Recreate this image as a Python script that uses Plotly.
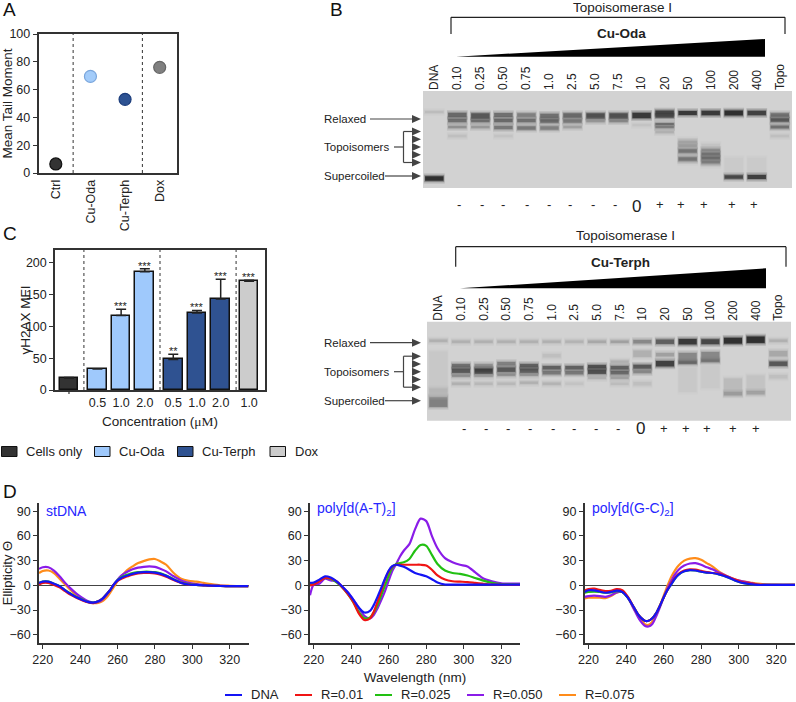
import plotly.graph_objects as go

W, H = 796, 702
FONT = "Liberation Sans"
INK = "#222222"

# ---- Panel A
a_groups = ["Ctrl", "Cu-Oda", "Cu-Terph", "Dox"]
a_values = [6.5, 69.5, 53, 76]
a_fill = ["#333333", "#a3ccfa", "#2d5292", "#808080"]
a_edge = ["#111111", "#7aa6dc", "#1c3d7c", "#666666"]

# ---- Panel C
c_pos = [0, 1.2, 2.2, 3.2, 4.4, 5.4, 6.4, 7.6]
c_ticks = ["0.5", "1.0", "2.0", "0.5", "1.0", "2.0", "1.0"]
c_values = [18.5, 33, 117, 186, 48, 121, 143, 171]
c_errors = [1, 0.5, 10, 4.5, 8, 4, 31, 1.5]
c_stars = ["", "", "***", "***", "**", "***", "***", "***"]
c_fill = ["#333333", "#9fc9fc", "#9fc9fc", "#9fc9fc", "#2f5291", "#2f5291", "#2f5291", "#cccccc"]
c_legend = ["Cells only", "Cu-Oda", "Cu-Terph", "Dox"]
c_legend_fill = ["#333333", "#9fc9fc", "#2f5291", "#cccccc"]

# ---- Panel D
wl = [218, 220, 223, 226, 229, 232, 235, 238, 241, 244, 247, 250, 252, 254, 256, 258, 260, 262,
      264, 266, 268, 271, 274, 277, 280, 283, 286, 290, 294, 298, 302, 306, 310, 315, 320, 330]
st_dna = [3, 4.5, 4.5, 2, -1, -6, -10.5, -14.5, -17.5, -20, -21, -19, -16, -11, -6, 1, 6, 9, 11, 12.5, 14, 15.5, 16, 16, 15.5, 14, 11.5, 7, 3, 1, 0.5, 0, -0.5, -0.8, -1, -1]
st_r1 = [1, 3, 3, 0.5, -2.5, -7, -11.5, -15, -18, -20.5, -21.5, -19, -16, -11, -6, 1, 5.5, 8, 10, 11.5, 13, 14.5, 15, 15, 14.5, 13, 10.5, 6.5, 3, 1, 0.5, 0, -0.5, -0.8, -1, -1]
st_r25 = [3, 4.5, 4.5, 2, -1, -6, -10, -14, -17, -20, -21, -19, -16, -11, -6, 1, 6.5, 10, 12, 13.5, 15, 16, 16.5, 16.5, 16, 14.5, 12, 7.5, 3.5, 1.5, 0.5, 0, -0.5, -0.8, -1, -1]
st_r50 = [20, 22, 22, 18, 11, 3, -4, -10, -15, -19, -21, -20, -17, -12, -6, 1, 7, 12, 15, 17.5, 19.5, 21.5, 22.5, 23, 22.5, 20, 17, 11, 6, 3, 1.5, 0.5, 0, -0.5, -1, -1]
st_r75 = [15, 17.5, 18, 15, 8, 1, -6, -12, -16.5, -20, -21.5, -21, -19, -15, -9, -2, 5, 11, 16, 20, 23, 27, 29.5, 31.5, 32, 29, 25, 15, 8, 5.5, 4.5, 3, 1.5, 0, -0.5, -1]
at_dna = [3, 3.5, 7, 11, 9.5, 5, -1, -8, -17, -27, -33, -31, -24, -14, -3, 8, 18, 23.5, 25, 24, 22.5, 19, 15, 13, 11, 7.5, 3.5, 1, 0.8, 0.8, 0.8, 0.8, 0.8, 0.8, 0.8, 0.8]
at_r1 = [0, 1, 5, 9, 8.5, 5, -2, -10, -20, -34, -42, -40, -32, -20, -7, 7, 17, 23, 25, 25, 25, 25, 25, 25, 24, 19, 12, 7, 5, 4.5, 4, 3, 2, 1, 0.8, 0.5]
at_r25 = [1, 2, 6, 9, 8, 4, -2, -10, -20, -32, -40, -39, -33, -24, -12, 0, 12, 22, 26, 27, 28, 32, 42, 49, 48, 37, 26, 18, 15, 14, 12, 9, 6, 3, 1.5, 1]
at_r50 = [-12, 1, 2, 8, 6, 5, -1, -8, -17, -27, -37, -40, -36, -28, -18, -7, 6, 18, 26, 35, 42, 50, 68, 81, 78, 60, 45, 33, 28, 25, 23, 16, 9, 5, 2.5, 2]
gc_dna = [-8, -6, -6, -7.5, -9, -8, -6.5, -8, -15, -26, -37, -43, -43, -40, -34, -25, -15, -6, 1, 8, 13, 17, 18.5, 18, 16.5, 15.5, 15, 13, 10, 6, 3, 1.5, 0.5, 0.5, 0.5, 0.5]
gc_r1 = [-6, -4.5, -4, -5.5, -7, -6.5, -4.5, -6, -14, -26, -37, -43, -43, -40, -34, -25, -15, -6, 2, 9, 14, 18, 19.5, 19, 17.5, 16, 15, 14, 10.5, 7, 4, 2.5, 1, 0.5, 0.5, 0.5]
gc_r25 = [-9, -8, -7.5, -8, -9, -8.5, -7, -8, -15, -26, -37, -43, -43, -40, -34, -25, -15, -6, 1, 8, 13, 17, 18.5, 18, 16.5, 15.5, 15, 13, 10, 6, 3, 1.5, 0.5, 0.5, 0.5, 0.5]
gc_r50 = [-14, -13, -12.5, -13, -14, -12, -8.5, -8, -15, -28, -41, -49, -50, -47, -38, -27, -15, -4, 5, 13, 19, 24, 26.5, 27, 25, 22, 19.5, 15, 11, 7, 5, 3, 1, 0.5, 0.5, 0.5]
gc_r75 = [-16, -15, -15, -15, -15.5, -13, -9, -8, -15, -27, -38, -47, -48, -44, -36, -25, -13, -1, 10, 18, 24, 30, 32.5, 33, 31, 27, 23, 16, 11, 7.5, 5, 3.5, 2, 1, 0.5, 0.5]
d_names = ["DNA", "R=0.01", "R=0.025", "R=0.050", "R=0.075"]
d_colors = ["#1414f5", "#f01414", "#22c012", "#8a1ce8", "#ff8c1a"]

# ---- Panel B gels
lane_labels = ["DNA", "0.10", "0.25", "0.50", "0.75", "1.0", "2.5", "5.0", "7.5", "10", "20", "50", "100", "200", "400", "Topo"]
signs = ["-", "-", "-", "-", "-", "-", "-", "-", "0", "+", "+", "+", "+", "+"]
sign_lane1 = [1.09, 2.06, 3, 4.01, 4.96, 5.9, 6.87, 7.83, 8.8, 9.81, 10.72, 11.72, 12.93, 13.87]
sign_lane2 = [1.13, 2.09, 3.07, 4.06, 5.04, 6, 6.96, 7.94, 8.93, 9.97, 10.91, 11.87, 13, 14]
# (lane, migration, darkness, band height)
gel1_bands = [
    (0, 21, .15, 1), (0, 87.5, 1, 4),
    (1, 24, .65, 4), (1, 29.5, .6, 3), (1, 36, .4, 2), (1, 45, .1, 2),
    (2, 25, .75, 5), (2, 30, .6, 2), (2, 36, .35, 2),
    (3, 24, .6, 3.5), (3, 29.5, .65, 3), (3, 36.5, .55, 3), (3, 45, .08, 2),
    (4, 24, .5, 3), (4, 29.5, .6, 3), (4, 37, .55, 3),
    (5, 25, .6, 4), (5, 30, .65, 3), (5, 37, .5, 3),
    (6, 24.5, .65, 4), (6, 30, .55, 3), (6, 36, .3, 2),
    (7, 25, .8, 5), (7, 30, .35, 2),
    (8, 25, .8, 5), (8, 30, .45, 2),
    (9, 24.5, .95, 5), (9, 34, .08, 2),
    (10, 21.5, .85, 3.5), (10, 25, .8, 3), (10, 33, .6, 1.5), (10, 36, .5, 2), (10, 41, .2, 2),
    (11, 22, .95, 3.5), (11, 60, .08, 24), (11, 51, .25, 2), (11, 54.5, .3, 2), (11, 60, .55, 3), (11, 68, .55, 3),
    (12, 22, .95, 4), (12, 64, .08, 22), (12, 59, .4, 2), (12, 63, .55, 2.5), (12, 67, .6, 2.5), (12, 71, .5, 2.5),
    (13, 22, 1, 4.5), (13, 76, .035, 18), (13, 86, .85, 3),
    (14, 22, .9, 4), (14, 76, .035, 18), (14, 86, .9, 3.5),
    (15, 24, .6, 3), (15, 29, .75, 3), (15, 36, .6, 2.5), (15, 45, .1, 2),
]
gel2_bands = [
    (0, 19, .2, 2), (0, 50, .05, 40), (0, 80, .5, 10), (0, 71, .15, 8),
    (1, 20, .2, 2), (1, 44, .6, 3), (1, 49, .75, 4), (1, 54, .4, 2), (1, 62, .2, 2),
    (2, 20, .2, 2), (2, 44, .4, 3), (2, 49.5, .9, 5), (2, 54, .3, 2), (2, 62, .15, 2),
    (3, 20, .2, 2), (3, 42, .5, 3), (3, 48, .75, 4), (3, 53, .4, 2), (3, 62, .15, 2),
    (4, 20, .2, 2), (4, 44, .7, 3), (4, 49, .75, 4), (4, 53, .35, 2), (4, 61, .2, 2),
    (5, 20, .2, 2), (5, 34, .1, 3), (5, 46, .7, 3), (5, 51, .55, 3), (5, 62, .18, 2),
    (6, 20, .18, 2), (6, 46, .7, 3), (6, 51, .55, 3), (6, 62, .08, 2),
    (7, 20, .25, 2), (7, 45, .8, 3), (7, 50, .8, 4), (7, 56, .2, 2),
    (8, 20, .3, 2), (8, 40, .2, 2), (8, 46, .7, 3), (8, 51, .65, 3), (8, 56, .3, 2), (8, 62, .12, 2),
    (9, 20, .45, 3), (9, 32, .2, 6), (9, 45, .75, 3.5), (9, 50, .45, 2.5), (9, 62, .1, 3),
    (10, 20, .7, 4), (10, 33, .3, 3), (10, 42, .9, 5),
    (11, 20, .95, 5), (11, 36, .45, 9), (11, 41, .6, 2), (11, 58, .045, 24),
    (12, 20, .85, 4.5), (12, 35, .45, 9), (12, 39, .5, 2), (12, 55, .04, 22),
    (13, 19, 1, 5.5), (13, 65, .13, 16), (13, 72, .3, 3),
    (14, 18, 1, 6), (14, 62, .08, 16), (14, 71, .28, 3),
    (15, 19, .2, 2), (15, 32, .25, 5), (15, 42, .75, 4), (15, 55, .1, 3),
]


def X(p):
    return p / W


def Y(p):
    return 1 - p / H


fig = go.Figure()
shapes, notes = [], []


def note(px, py, text, size=12, anchor="left", color=INK, bold=False, angle=0):
    notes.append(dict(xref="paper", yref="paper", x=X(px), y=Y(py), text=f"<b>{text}</b>" if bold else text,
                      showarrow=False, xanchor=anchor, yanchor="middle", textangle=angle, borderpad=0,
                      font=dict(family=FONT, size=size, color=color)))


def seg(x0, y0, x1, y1, color="#333333", width=1.2):
    shapes.append(dict(type="line", xref="paper", yref="paper", x0=X(x0), y0=Y(y0), x1=X(x1), y1=Y(y1),
                       line=dict(color=color, width=width)))


def poly(pts, color):
    path = "M " + " L ".join(f"{X(a):.5f},{Y(b):.5f}" for a, b in pts) + " Z"
    shapes.append(dict(type="path", xref="paper", yref="paper", path=path, fillcolor=color, line=dict(width=0)))


def dom(a, b, size):
    return [a / size, b / size]


def ydom(top, bottom):
    return [1 - bottom / H, 1 - top / H]


tickf = dict(family=FONT, size=12.5, color=INK)
titlef = dict(family=FONT, size=13.5, color=INK)
axcommon = dict(showgrid=False, zeroline=False, linecolor="#333333", linewidth=1.5, tickcolor="#333333", tickfont=tickf,
                layer="below traces", automargin=False)

# ---- A
fig.add_trace(go.Scatter(x=a_groups, y=a_values, mode="markers", xaxis="x", yaxis="y", showlegend=False,
                         marker=dict(size=12, color=a_fill, line=dict(color=a_edge, width=1.2))))
shapes += [dict(type="line", xref="x", yref="y domain", x0=v, x1=v, y0=0, y1=1, line=dict(color="#333333", width=1, dash="dot")) for v in (0.5, 2.5)]

# ---- C
fig.add_trace(go.Bar(x=c_pos, y=c_values, width=0.79, xaxis="x2", yaxis="y2", showlegend=False,
                     marker=dict(color=c_fill, line=dict(color="#111111", width=1.5)),
                     error_y=dict(type="data", symmetric=False, array=c_errors, arrayminus=[0] * 8, color="#222222", thickness=1.5, width=5)))
for p, v, e, s in zip(c_pos, c_values, c_errors, c_stars):
    if s:
        notes.append(dict(xref="x2", yref="y2", x=p, y=v + e, text=s, showarrow=False, yanchor="bottom", yshift=-4, borderpad=0,
                          font=dict(family=FONT, size=11, color=INK)))
shapes += [dict(type="line", xref="x2", yref="y2 domain", x0=v, x1=v, y0=0, y1=1, line=dict(color="#333333", width=1, dash="dot")) for v in (0.63, 3.84, 7.05)]
shapes.append(dict(type="line", xref="x2", yref="paper", x0=c_pos[0], x1=c_pos[0], y0=Y(390), y1=Y(394), line=dict(color="#333333", width=1.2)))
note(25, 319.5, "γH2AX MFI", 13.5, "center", angle=-90)
for sx, name, col in zip((1.5, 94.5, 177.5, 270), c_legend, c_legend_fill):
    shapes.append(dict(type="rect", xref="paper", yref="paper", x0=X(sx), x1=X(sx + 15.5), y0=Y(456.5), y1=Y(446.5),
                       fillcolor=col, line=dict(color="#111111", width=1)))
    note(sx + 23.5, 451.5, name, 13)

# ---- gels


def band_color(d):
    v = int(round(208 * (1 - d) + 12 * d))
    return f"rgb({v},{v},{v})"


def draw_gel(bands, xa, ya):
    for lane, pos, dark, thick in bands:
        col = band_color(dark)
        for grow, op, hw in ((6, 0.14, 0.45), (3, 0.26, 0.43), (0.5, 0.7, 0.4)):
            fig.add_trace(go.Scatter(x=[lane - hw, lane + hw], y=[pos, pos], mode="lines", xaxis=xa, yaxis=ya, showlegend=False,
                                     hoverinfo="skip", opacity=op, line=dict(color=col, width=thick + grow)))


draw_gel(gel1_bands, "x3", "y3")
draw_gel(gel2_bands, "x4", "y4")
for xr, yr in (("x3", "y3"), ("x4", "y4")):
    shapes.append(dict(type="rect", xref=f"{xr} domain", yref=f"{yr} domain", x0=0, x1=1, y0=0, y1=1,
                       fillcolor="#d2d2d2", line=dict(width=0), layer="below"))

for lane, s in zip(sign_lane1, signs):
    notes.append(dict(xref="x3", yref="paper", x=lane, y=Y(195), text=s, showarrow=False,
                      font=dict(family=FONT, size=17 if s == "0" else 13, color=INK)))
for lane, s in zip(sign_lane2, signs):
    notes.append(dict(xref="x4", yref="paper", x=lane, y=Y(428), text=s, showarrow=False,
                      font=dict(family=FONT, size=17 if s == "0" else 13, color=INK)))


def gel_decor(title_y, title_x, drug, drug_x, drug_y, br_top, br_bot, br_l, br_r, w_l, w_r, w_top, w_bot,
              rel_y, top_y, sup_y, sup_x0):
    note(title_x, title_y, "Topoisomerase I", 13.5, "center")
    note(drug_x, drug_y, drug, 13.5, "center", bold=True)
    seg(br_l, br_bot, br_l, br_top, "#222222")
    seg(br_l, br_top, br_r, br_top, "#222222")
    seg(br_r, br_top, br_r, br_bot, "#222222")
    poly([(w_l, w_bot), (w_r, w_top), (w_r, w_bot)], "#000000")
    note(323, rel_y, "Relaxed", 11.5)
    note(323, top_y, "Topoisomers", 11.5)
    note(323, sup_y, "Supercoiled", 11.5)
    for yy, x0 in ((rel_y, 370), (sup_y, sup_x0)):
        seg(x0, yy, 413, yy, "#444444")
        poly([(412, yy - 4), (421, yy), (412, yy + 4)], "#444444")
    seg(394, top_y, 403.5, top_y, "#444444")
    seg(403.5, top_y - 15.5, 403.5, top_y + 15.5, "#444444")
    for dy in (-15.5, -7.8, 0, 7.8, 15.5):
        if abs(dy) > 10:
            seg(403.5, top_y + dy, 412, top_y + dy, "#444444")
        poly([(412, top_y + dy - 4), (421, top_y + dy), (412, top_y + dy + 4)], "#444444")


gel_decor(7.5, 622.7, "Cu-Oda", 621.7, 33, 17.3, 34, 451, 785, 456, 765, 39, 56.7, 119, 147, 176, 385)
gel_decor(235, 625.7, "Cu-Terph", 620.7, 262.7, 246.7, 266.7, 455.7, 786, 460, 766, 268.3, 288.3, 342.7, 371.7, 400.7, 385)

# ---- D
panels = [
    ("x5", "y5", [(st_r75, 4), (st_r50, 3), (st_r25, 2), (st_r1, 1), (st_dna, 0)]),
    ("x6", "y6", [(at_r50, 3), (at_r25, 2), (at_r1, 1), (at_dna, 0)]),
    ("x7", "y7", [(gc_r75, 4), (gc_r50, 3), (gc_r25, 2), (gc_r1, 1), (gc_dna, 0)]),
]
for xa, ya, series in panels:
    for vals, idx in series:
        fig.add_trace(go.Scatter(x=wl, y=vals, mode="lines", xaxis=xa, yaxis=ya, name=d_names[idx], showlegend=False,
                                 line=dict(color=d_colors[idx], width=2.2, shape="spline", smoothing=0.8)))

BLUE = "#2626ff"
note(45, 511, "stDNA", 14, color=BLUE)
note(316, 509, "poly[d(A-T)<sub>2</sub>]", 14, color=BLUE)
note(591, 509, "poly[d(G-C)<sub>2</sub>]", 14, color=BLUE)
for lx, name, col in zip((225, 295, 375, 467, 559), d_names, d_colors):
    seg(lx, 695, lx + 17, 695, col, 2)
    note(lx + 24.5, 694.5, name, 13)

# ---- panel letters
for px, py, t in ((2, 10, "A"), (329, 10, "B"), (2, 233, "C"), (2, 492, "D")):
    note(px, py, t, 19, color="#111111")

# ---- axes
layout_axes = dict(
    xaxis=dict(domain=dom(38.5, 177, W), anchor="y", type="category", range=[-0.5, 3.5], mirror=True, ticks="", tickangle=-90, **axcommon),
    yaxis=dict(domain=ydom(34, 173), anchor="x", range=[0, 100], tickvals=[0, 20, 40, 60, 80, 100], ticks="outside", ticklen=4, mirror=True,
               title=dict(text="Mean Tail Moment", font=titlef, standoff=4), **axcommon),
    xaxis2=dict(domain=dom(55, 265, W), anchor="y2", range=[-0.59, 8.27], tickvals=c_pos[1:], ticktext=c_ticks, ticks="", mirror=True,
                title=dict(text="Concentration (<span style='font-family:Liberation Serif'>μM</span>)", font=titlef, standoff=8), **axcommon),
    yaxis2=dict(domain=ydom(250, 390), anchor="x2", range=[0, 220], tickvals=[0, 50, 100, 150, 200], ticks="outside", ticklen=4, mirror=True, **axcommon),
    xaxis3=dict(domain=dom(423, 792, W), anchor="y3", side="top", range=[-0.49, 15.53], tickvals=list(range(16)), ticktext=lane_labels,
                tickangle=-90, showgrid=False, zeroline=False, showline=False, ticks="", automargin=False, tickfont=dict(family=FONT, size=12, color=INK)),
    yaxis3=dict(domain=ydom(91, 188), anchor="x3", range=[97, 0], visible=False, automargin=False),
    xaxis4=dict(domain=dom(427, 791, W), anchor="y4", side="top", range=[-0.5, 15.56], tickvals=list(range(16)), ticktext=lane_labels,
                tickangle=-90, showgrid=False, zeroline=False, showline=False, ticks="", automargin=False, tickfont=dict(family=FONT, size=12, color=INK)),
    yaxis4=dict(domain=ydom(321.7, 420.7), anchor="x4", range=[99, 0], visible=False, automargin=False),
)
for i, (l, r, x0) in zip((5, 6, 7), ((39, 248.5, 218), (310, 520, 218), (584.7, 795, 218))):
    layout_axes[f"xaxis{i}"] = dict(domain=dom(l, r, W), anchor=f"y{i}", range=[x0, 330], tickvals=[220, 240, 260, 280, 300, 320],
                                    ticks="outside", ticklen=4, **axcommon)
    extra = dict(axcommon)
    extra["zeroline"] = True
    layout_axes[f"yaxis{i}"] = dict(domain=ydom(503, 643), anchor=f"x{i}", range=[-70, 100], tickvals=[-60, -30, 0, 30, 60, 90],
                                    ticks="outside", ticklen=4, zerolinecolor="#444444", zerolinewidth=1, **extra)
layout_axes["yaxis5"]["title"] = dict(text="Ellipticity Θ", font=dict(family=FONT, size=13, color=INK), standoff=3)
layout_axes["xaxis6"]["title"] = dict(text="Wavelength (nm)", font=titlef, standoff=7)

fig.update_layout(width=W, height=H, margin=dict(l=0, r=0, t=0, b=0), paper_bgcolor="white", plot_bgcolor="rgba(0,0,0,0)",
                  showlegend=False, shapes=shapes, annotations=notes, bargap=0, **layout_axes)
fig.write_html("out.html", post_script="document.body.style.margin='0';", config=dict(displayModeBar=False))
